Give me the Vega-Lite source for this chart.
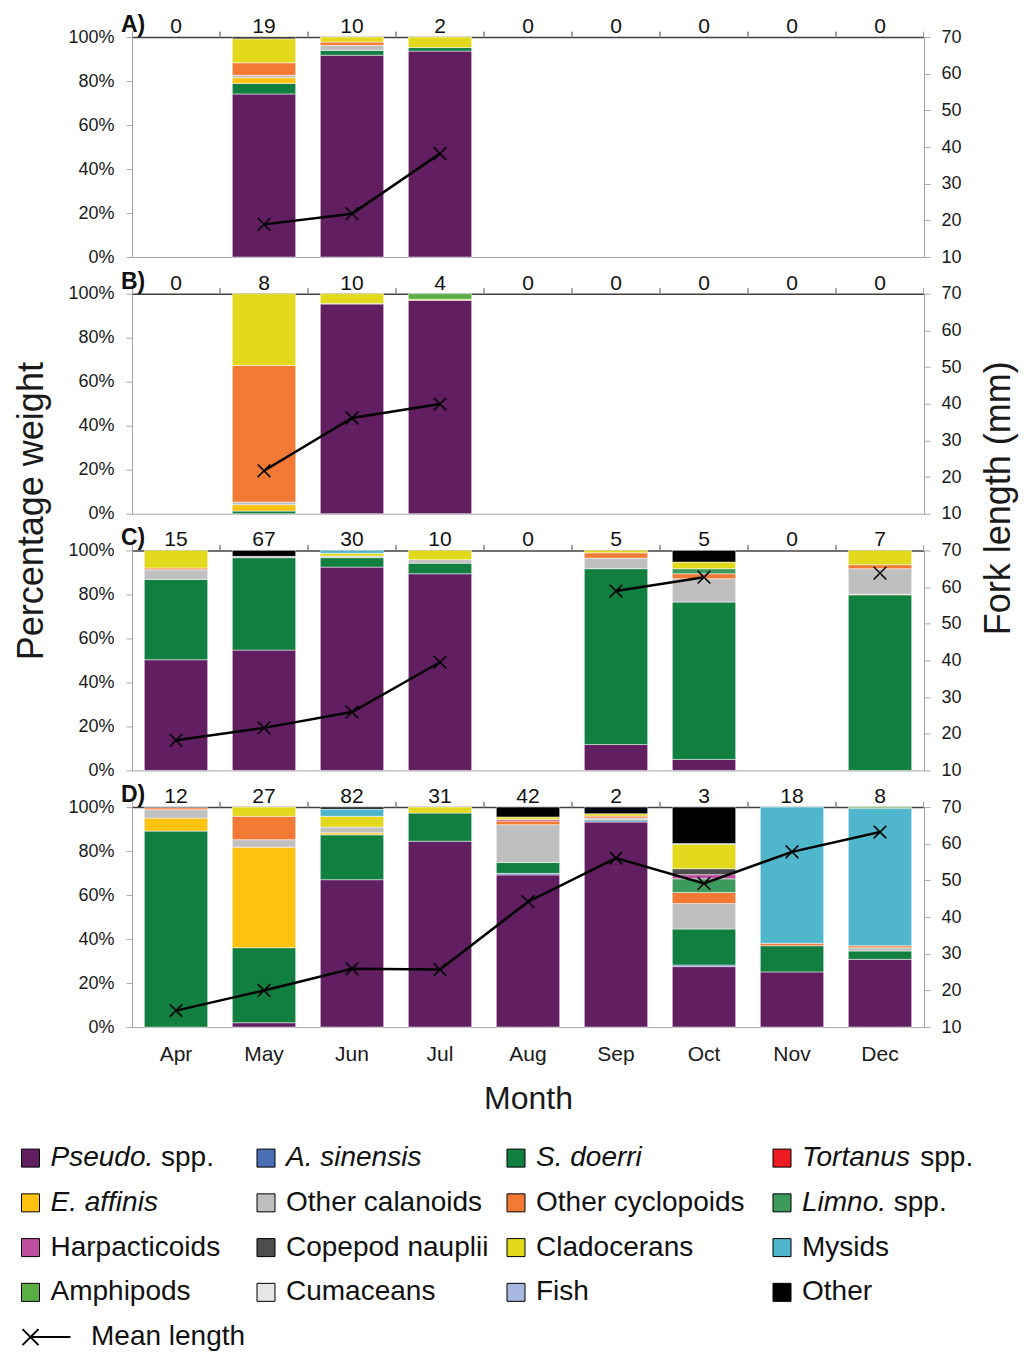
{
  "$schema": "https://vega.github.io/schema/vega-lite/v6.json",
  "background": "white",
  "padding": {"left": 12, "top": 14, "right": 4, "bottom": 2},
  "spacing": 36.7,
  "bounds": "flush",
  "config": {
    "font": "Liberation Sans",
    "view": {"stroke": null},
    "text": {"font": "Liberation Sans"},
    "axis": {"labelFont": "Liberation Sans", "titleFont": "Liberation Sans", "labelFontSize": 18, "labelColor": "#1a1a1a", "domainColor": "#a6a6a6", "tickColor": "#a6a6a6", "tickSize": 6, "grid": false, "titleColor": "#1a1a1a", "titleFontWeight": "normal"}
  },
  "datasets": {
    "comp": [
      {"p":"A","m":"May","s":"Pseudo. spp.","v":74.1},{"p":"A","m":"May","s":"S. doerri","v":4.8},{"p":"A","m":"May","s":"E. affinis","v":2.6},{"p":"A","m":"May","s":"Other calanoids","v":1.1},{"p":"A","m":"May","s":"Other cyclopoids","v":5.7},{"p":"A","m":"May","s":"Cladocerans","v":10.9},{"p":"A","m":"May","s":"Other","v":0.8},
      {"p":"A","m":"Jun","s":"Pseudo. spp.","v":91.7},{"p":"A","m":"Jun","s":"S. doerri","v":2.2},{"p":"A","m":"Jun","s":"Other calanoids","v":2.3},{"p":"A","m":"Jun","s":"Other cyclopoids","v":1.5},{"p":"A","m":"Jun","s":"Cladocerans","v":2.3},
      {"p":"A","m":"Jul","s":"Pseudo. spp.","v":93.6},{"p":"A","m":"Jul","s":"S. doerri","v":1.6},{"p":"A","m":"Jul","s":"Cladocerans","v":4.8},
      {"p":"B","m":"May","s":"S. doerri","v":1.2},{"p":"B","m":"May","s":"E. affinis","v":2.9},{"p":"B","m":"May","s":"Other calanoids","v":1.2},{"p":"B","m":"May","s":"Other cyclopoids","v":62.1},{"p":"B","m":"May","s":"Cladocerans","v":32.6},
      {"p":"B","m":"Jun","s":"Pseudo. spp.","v":95.3},{"p":"B","m":"Jun","s":"A. sinensis","v":0.3},{"p":"B","m":"Jun","s":"Cladocerans","v":4.4},
      {"p":"B","m":"Jul","s":"Pseudo. spp.","v":97.0},{"p":"B","m":"Jul","s":"Cladocerans","v":0.5},{"p":"B","m":"Jul","s":"Amphipods","v":2.5},
      {"p":"C","m":"Apr","s":"Pseudo. spp.","v":50.3},{"p":"C","m":"Apr","s":"S. doerri","v":36.5},{"p":"C","m":"Apr","s":"Other calanoids","v":4.4},{"p":"C","m":"Apr","s":"Other cyclopoids","v":0.8},{"p":"C","m":"Apr","s":"Cladocerans","v":8.0},
      {"p":"C","m":"May","s":"Pseudo. spp.","v":54.7},{"p":"C","m":"May","s":"S. doerri","v":42.0},{"p":"C","m":"May","s":"Other calanoids","v":0.6},{"p":"C","m":"May","s":"Other","v":2.7},
      {"p":"C","m":"Jun","s":"Pseudo. spp.","v":92.4},{"p":"C","m":"Jun","s":"S. doerri","v":4.3},{"p":"C","m":"Jun","s":"Other calanoids","v":0.7},{"p":"C","m":"Jun","s":"Cladocerans","v":1.3},{"p":"C","m":"Jun","s":"Mysids","v":1.3},
      {"p":"C","m":"Jul","s":"Pseudo. spp.","v":89.4},{"p":"C","m":"Jul","s":"S. doerri","v":4.8},{"p":"C","m":"Jul","s":"Other calanoids","v":1.6},{"p":"C","m":"Jul","s":"Cladocerans","v":4.2},
      {"p":"C","m":"Sep","s":"Pseudo. spp.","v":11.8},{"p":"C","m":"Sep","s":"S. doerri","v":79.9},{"p":"C","m":"Sep","s":"Other calanoids","v":4.8},{"p":"C","m":"Sep","s":"Other cyclopoids","v":2.4},{"p":"C","m":"Sep","s":"Cladocerans","v":1.1},
      {"p":"C","m":"Oct","s":"Pseudo. spp.","v":5.0},{"p":"C","m":"Oct","s":"S. doerri","v":71.5},{"p":"C","m":"Oct","s":"Other calanoids","v":10.6},{"p":"C","m":"Oct","s":"Other cyclopoids","v":2.3},{"p":"C","m":"Oct","s":"Limno. spp.","v":2.3},{"p":"C","m":"Oct","s":"Cladocerans","v":3.0},{"p":"C","m":"Oct","s":"Other","v":5.3},
      {"p":"C","m":"Dec","s":"S. doerri","v":79.8},{"p":"C","m":"Dec","s":"E. affinis","v":0.3},{"p":"C","m":"Dec","s":"Other calanoids","v":11.6},{"p":"C","m":"Dec","s":"Other cyclopoids","v":1.8},{"p":"C","m":"Dec","s":"Cladocerans","v":6.5},
      {"p":"D","m":"Apr","s":"S. doerri","v":89.1},{"p":"D","m":"Apr","s":"E. affinis","v":5.9},{"p":"D","m":"Apr","s":"Other calanoids","v":3.8},{"p":"D","m":"Apr","s":"Other cyclopoids","v":0.9},{"p":"D","m":"Apr","s":"Other","v":0.3},
      {"p":"D","m":"May","s":"Pseudo. spp.","v":2.0},{"p":"D","m":"May","s":"S. doerri","v":34.1},{"p":"D","m":"May","s":"E. affinis","v":45.7},{"p":"D","m":"May","s":"Other calanoids","v":3.4},{"p":"D","m":"May","s":"Other cyclopoids","v":10.6},{"p":"D","m":"May","s":"Cladocerans","v":4.2},
      {"p":"D","m":"Jun","s":"Pseudo. spp.","v":67.0},{"p":"D","m":"Jun","s":"S. doerri","v":20.4},{"p":"D","m":"Jun","s":"E. affinis","v":0.9},{"p":"D","m":"Jun","s":"Other calanoids","v":2.6},{"p":"D","m":"Jun","s":"Cladocerans","v":4.9},{"p":"D","m":"Jun","s":"Mysids","v":3.3},{"p":"D","m":"Jun","s":"Other","v":0.9},
      {"p":"D","m":"Jul","s":"Pseudo. spp.","v":84.5},{"p":"D","m":"Jul","s":"S. doerri","v":12.8},{"p":"D","m":"Jul","s":"Cladocerans","v":2.7},
      {"p":"D","m":"Aug","s":"Pseudo. spp.","v":69.2},{"p":"D","m":"Aug","s":"A. sinensis","v":0.7},{"p":"D","m":"Aug","s":"S. doerri","v":4.9},{"p":"D","m":"Aug","s":"Other calanoids","v":17.2},{"p":"D","m":"Aug","s":"Other cyclopoids","v":1.7},{"p":"D","m":"Aug","s":"Harpacticoids","v":0.7},{"p":"D","m":"Aug","s":"Cladocerans","v":1.1},{"p":"D","m":"Aug","s":"Other","v":4.5},
      {"p":"D","m":"Sep","s":"Pseudo. spp.","v":93.2},{"p":"D","m":"Sep","s":"A. sinensis","v":0.6},{"p":"D","m":"Sep","s":"S. doerri","v":0.5},{"p":"D","m":"Sep","s":"Other calanoids","v":0.8},{"p":"D","m":"Sep","s":"Other cyclopoids","v":0.8},{"p":"D","m":"Sep","s":"Cladocerans","v":1.1},{"p":"D","m":"Sep","s":"Other","v":3.0},
      {"p":"D","m":"Oct","s":"Pseudo. spp.","v":27.5},{"p":"D","m":"Oct","s":"A. sinensis","v":0.7},{"p":"D","m":"Oct","s":"S. doerri","v":16.4},{"p":"D","m":"Oct","s":"Other calanoids","v":11.6},{"p":"D","m":"Oct","s":"Other cyclopoids","v":5.0},{"p":"D","m":"Oct","s":"Limno. spp.","v":6.2},{"p":"D","m":"Oct","s":"Harpacticoids","v":1.9},{"p":"D","m":"Oct","s":"Copepod nauplii","v":2.7},{"p":"D","m":"Oct","s":"Cladocerans","v":11.1},{"p":"D","m":"Oct","s":"Amphipods","v":0.3},{"p":"D","m":"Oct","s":"Other","v":16.6},
      {"p":"D","m":"Nov","s":"Pseudo. spp.","v":25.1},{"p":"D","m":"Nov","s":"S. doerri","v":11.9},{"p":"D","m":"Nov","s":"Other cyclopoids","v":1.1},{"p":"D","m":"Nov","s":"Mysids","v":61.9},
      {"p":"D","m":"Dec","s":"Pseudo. spp.","v":30.8},{"p":"D","m":"Dec","s":"S. doerri","v":3.8},{"p":"D","m":"Dec","s":"Other calanoids","v":1.5},{"p":"D","m":"Dec","s":"Other cyclopoids","v":0.9},{"p":"D","m":"Dec","s":"Mysids","v":62.5},{"p":"D","m":"Dec","s":"Amphipods","v":0.5}
    ],
    "lens": [
      {"p":"A","m":"May","len":18.9},{"p":"A","m":"Jun","len":21.8},{"p":"A","m":"Jul","len":38.2},
      {"p":"B","m":"May","len":21.7},{"p":"B","m":"Jun","len":36.1},{"p":"B","m":"Jul","len":39.9},
      {"p":"C","m":"Apr","len":18.2},{"p":"C","m":"May","len":21.6},{"p":"C","m":"Jun","len":25.9},{"p":"C","m":"Jul","len":39.5},{"p":"C","m":"Aug","len":null},{"p":"C","m":"Sep","len":58.9},{"p":"C","m":"Oct","len":62.7},{"p":"C","m":"Nov","len":null},{"p":"C","m":"Dec","len":63.8},
      {"p":"D","m":"Apr","len":14.5},{"p":"D","m":"May","len":20.0},{"p":"D","m":"Jun","len":25.9},{"p":"D","m":"Jul","len":25.7},{"p":"D","m":"Aug","len":44.2},{"p":"D","m":"Sep","len":56.1},{"p":"D","m":"Oct","len":49.2},{"p":"D","m":"Nov","len":57.8},{"p":"D","m":"Dec","len":63.2}
    ],
    "counts": [
      {"p":"A","m":"Apr","n":0},{"p":"A","m":"May","n":19},{"p":"A","m":"Jun","n":10},{"p":"A","m":"Jul","n":2},{"p":"A","m":"Aug","n":0},{"p":"A","m":"Sep","n":0},{"p":"A","m":"Oct","n":0},{"p":"A","m":"Nov","n":0},{"p":"A","m":"Dec","n":0},
      {"p":"B","m":"Apr","n":0},{"p":"B","m":"May","n":8},{"p":"B","m":"Jun","n":10},{"p":"B","m":"Jul","n":4},{"p":"B","m":"Aug","n":0},{"p":"B","m":"Sep","n":0},{"p":"B","m":"Oct","n":0},{"p":"B","m":"Nov","n":0},{"p":"B","m":"Dec","n":0},
      {"p":"C","m":"Apr","n":15},{"p":"C","m":"May","n":67},{"p":"C","m":"Jun","n":30},{"p":"C","m":"Jul","n":10},{"p":"C","m":"Aug","n":0},{"p":"C","m":"Sep","n":5},{"p":"C","m":"Oct","n":5},{"p":"C","m":"Nov","n":0},{"p":"C","m":"Dec","n":7},
      {"p":"D","m":"Apr","n":12},{"p":"D","m":"May","n":27},{"p":"D","m":"Jun","n":82},{"p":"D","m":"Jul","n":31},{"p":"D","m":"Aug","n":42},{"p":"D","m":"Sep","n":2},{"p":"D","m":"Oct","n":3},{"p":"D","m":"Nov","n":18},{"p":"D","m":"Dec","n":8}
    ],
    "legend": [
      {"name":"Pseudo. spp.","it":"Pseudo.","rest":"spp."},
      {"name":"A. sinensis","it":"A. sinensis","rest":""},
      {"name":"S. doerri","it":"S. doerri","rest":""},
      {"name":"Tortanus spp.","it":"Tortanus","rest":"spp."},
      {"name":"E. affinis","it":"E. affinis","rest":""},
      {"name":"Other calanoids","it":"","rest":"Other calanoids"},
      {"name":"Other cyclopoids","it":"","rest":"Other cyclopoids"},
      {"name":"Limno. spp.","it":"Limno.","rest":"spp."},
      {"name":"Harpacticoids","it":"","rest":"Harpacticoids"},
      {"name":"Copepod nauplii","it":"","rest":"Copepod nauplii"},
      {"name":"Cladocerans","it":"","rest":"Cladocerans"},
      {"name":"Mysids","it":"","rest":"Mysids"},
      {"name":"Amphipods","it":"","rest":"Amphipods"},
      {"name":"Cumaceans","it":"","rest":"Cumaceans"},
      {"name":"Fish","it":"","rest":"Fish"},
      {"name":"Other","it":"","rest":"Other"}
    ]
  },
  "vconcat": [
    {
      "width": 792, "height": 220,
      "layer": [
        {"data": {"name": "comp"},
         "transform": [{"filter": "datum.p == 'A'"}, {"calculate": "indexof(['Pseudo. spp.','A. sinensis','S. doerri','Tortanus spp.','E. affinis','Other calanoids','Other cyclopoids','Limno. spp.','Harpacticoids','Copepod nauplii','Cladocerans','Mysids','Amphipods','Cumaceans','Fish','Other'], datum.s)", "as": "k"}],
         "mark": {"type": "bar", "stroke": "white", "strokeWidth": 0.5},
         "encoding": {
           "x": {"field": "m", "type": "ordinal", "scale": {"domain": ["Apr","May","Jun","Jul","Aug","Sep","Oct","Nov","Dec"], "paddingInner": 0.28, "paddingOuter": 0.14}, "axis": {"labels": false, "ticks": false, "domain": true, "title": null}},
           "y": {"field": "v", "type": "quantitative", "stack": "normalize", "scale": {"domain": [0, 1]}, "axis": {"values": [0,0.2,0.4,0.6,0.8,1], "format": ".0%", "title": null, "labelPadding": 12}},
           "color": {"field": "s", "type": "nominal", "scale": {"domain": ["Pseudo. spp.","A. sinensis","S. doerri","Tortanus spp.","E. affinis","Other calanoids","Other cyclopoids","Limno. spp.","Harpacticoids","Copepod nauplii","Cladocerans","Mysids","Amphipods","Cumaceans","Fish","Other"], "range": ["#611f61","#4a6fb5","#117f40","#ed1c24","#ffc20e","#bfbfbf","#f37a35","#3c9a5c","#c04ea0","#4d4d4d","#e3d91c","#4fb6cc","#5aae44","#e6e6e6","#a8b8e0","#000000"]}, "legend": null},
           "order": {"field": "k", "type": "quantitative"}
         }},
        {"data": {"name": "lens"},
         "transform": [{"filter": "datum.p == 'A'"}],
         "mark": {"type": "line", "color": "black", "strokeWidth": 2.5},
         "encoding": {
           "x": {"field": "m", "type": "ordinal", "scale": {"domain": ["Apr","May","Jun","Jul","Aug","Sep","Oct","Nov","Dec"], "paddingInner": 0.28, "paddingOuter": 0.14}, "axis": {"labels": false, "ticks": true, "domain": false, "bandPosition": -0.1944, "title": null}},
           "y": {"field": "len", "type": "quantitative", "scale": {"domain": [10, 70]}, "axis": {"orient": "right", "values": [10,20,30,40,50,60,70], "title": null, "labelPadding": 11}}
         }},
        {"data": {"name": "lens"},
         "transform": [{"filter": "datum.p == 'A' && datum.len != null"}],
         "mark": {"type": "point", "shape": "M-1,-1L1,1M-1,1L1,-1", "size": 160, "stroke": "black", "strokeWidth": 1.6, "filled": false, "opacity": 1},
         "encoding": {
           "x": {"field": "m", "type": "ordinal", "scale": {"domain": ["Apr","May","Jun","Jul","Aug","Sep","Oct","Nov","Dec"], "paddingInner": 0.28, "paddingOuter": 0.14}, "axis": {"orient": "top", "labels": false, "ticks": false, "domain": true, "domainColor": "#404040", "domainWidth": 1.5, "title": null}},
           "y": {"field": "len", "type": "quantitative", "scale": {"domain": [10, 70]}, "axis": null}
         }},
        {"data": {"name": "counts"},
         "transform": [{"filter": "datum.p == 'A'"}],
         "mark": {"type": "text", "fontSize": 21, "baseline": "alphabetic", "dy": -4, "color": "#111111"},
         "encoding": {
           "x": {"field": "m", "type": "ordinal", "scale": {"domain": ["Apr","May","Jun","Jul","Aug","Sep","Oct","Nov","Dec"], "paddingInner": 0.28, "paddingOuter": 0.14}, "axis": {"labels": false, "ticks": true, "domain": false, "bandPosition": 1.1944, "title": null}},
           "y": {"datum": 70, "type": "quantitative", "scale": {"domain": [10, 70]}, "axis": null},
           "text": {"field": "n", "type": "quantitative"}
         }},
        {"data": {"values": [{"lab": "A)"}]},
         "mark": {"type": "text", "fontSize": 23, "fontWeight": "bold", "align": "left", "baseline": "alphabetic", "dx": -55, "dy": -5, "color": "#111111"},
         "encoding": {
           "x": {"datum": "Apr", "type": "ordinal", "scale": {"domain": ["Apr","May","Jun","Jul","Aug","Sep","Oct","Nov","Dec"], "paddingInner": 0.28, "paddingOuter": 0.14}, "axis": null},
           "y": {"datum": 70, "type": "quantitative", "scale": {"domain": [10, 70]}, "axis": null},
           "text": {"field": "lab", "type": "nominal"}
         }}
      ],
      "resolve": {"scale": {"y": "independent"}, "axis": {"x": "independent"}}
    },
    {
      "width": 792, "height": 220,
      "layer": [
        {"data": {"name": "comp"},
         "transform": [{"filter": "datum.p == 'B'"}, {"calculate": "indexof(['Pseudo. spp.','A. sinensis','S. doerri','Tortanus spp.','E. affinis','Other calanoids','Other cyclopoids','Limno. spp.','Harpacticoids','Copepod nauplii','Cladocerans','Mysids','Amphipods','Cumaceans','Fish','Other'], datum.s)", "as": "k"}],
         "mark": {"type": "bar", "stroke": "white", "strokeWidth": 0.5},
         "encoding": {
           "x": {"field": "m", "type": "ordinal", "scale": {"domain": ["Apr","May","Jun","Jul","Aug","Sep","Oct","Nov","Dec"], "paddingInner": 0.28, "paddingOuter": 0.14}, "axis": {"labels": false, "ticks": false, "domain": true, "title": null}},
           "y": {"field": "v", "type": "quantitative", "stack": "normalize", "scale": {"domain": [0, 1]}, "axis": {"values": [0,0.2,0.4,0.6,0.8,1], "format": ".0%", "labelPadding": 12, "title": "Percentage weight", "titleFontSize": 36, "titleAngle": -90, "titleX": -90, "titleY": 217, "titleAlign": "center", "titleBaseline": "alphabetic"}},
           "color": {"field": "s", "type": "nominal", "scale": {"domain": ["Pseudo. spp.","A. sinensis","S. doerri","Tortanus spp.","E. affinis","Other calanoids","Other cyclopoids","Limno. spp.","Harpacticoids","Copepod nauplii","Cladocerans","Mysids","Amphipods","Cumaceans","Fish","Other"], "range": ["#611f61","#4a6fb5","#117f40","#ed1c24","#ffc20e","#bfbfbf","#f37a35","#3c9a5c","#c04ea0","#4d4d4d","#e3d91c","#4fb6cc","#5aae44","#e6e6e6","#a8b8e0","#000000"]}, "legend": null},
           "order": {"field": "k", "type": "quantitative"}
         }},
        {"data": {"name": "lens"},
         "transform": [{"filter": "datum.p == 'B'"}],
         "mark": {"type": "line", "color": "black", "strokeWidth": 2.5},
         "encoding": {
           "x": {"field": "m", "type": "ordinal", "scale": {"domain": ["Apr","May","Jun","Jul","Aug","Sep","Oct","Nov","Dec"], "paddingInner": 0.28, "paddingOuter": 0.14}, "axis": {"labels": false, "ticks": true, "domain": false, "bandPosition": -0.1944, "title": null}},
           "y": {"field": "len", "type": "quantitative", "scale": {"domain": [10, 70]}, "axis": {"orient": "right", "values": [10,20,30,40,50,60,70], "labelPadding": 11, "title": "Fork length (mm)", "titleFontSize": 36, "titleAngle": -90, "titleX": 85, "titleY": 204, "titleAlign": "center", "titleBaseline": "alphabetic"}}
         }},
        {"data": {"name": "lens"},
         "transform": [{"filter": "datum.p == 'B' && datum.len != null"}],
         "mark": {"type": "point", "shape": "M-1,-1L1,1M-1,1L1,-1", "size": 160, "stroke": "black", "strokeWidth": 1.6, "filled": false, "opacity": 1},
         "encoding": {
           "x": {"field": "m", "type": "ordinal", "scale": {"domain": ["Apr","May","Jun","Jul","Aug","Sep","Oct","Nov","Dec"], "paddingInner": 0.28, "paddingOuter": 0.14}, "axis": {"orient": "top", "labels": false, "ticks": false, "domain": true, "domainColor": "#404040", "domainWidth": 1.5, "title": null}},
           "y": {"field": "len", "type": "quantitative", "scale": {"domain": [10, 70]}, "axis": null}
         }},
        {"data": {"name": "counts"},
         "transform": [{"filter": "datum.p == 'B'"}],
         "mark": {"type": "text", "fontSize": 21, "baseline": "alphabetic", "dy": -4, "color": "#111111"},
         "encoding": {
           "x": {"field": "m", "type": "ordinal", "scale": {"domain": ["Apr","May","Jun","Jul","Aug","Sep","Oct","Nov","Dec"], "paddingInner": 0.28, "paddingOuter": 0.14}, "axis": {"labels": false, "ticks": true, "domain": false, "bandPosition": 1.1944, "title": null}},
           "y": {"datum": 70, "type": "quantitative", "scale": {"domain": [10, 70]}, "axis": null},
           "text": {"field": "n", "type": "quantitative"}
         }},
        {"data": {"values": [{"lab": "B)"}]},
         "mark": {"type": "text", "fontSize": 23, "fontWeight": "bold", "align": "left", "baseline": "alphabetic", "dx": -55, "dy": -5, "color": "#111111"},
         "encoding": {
           "x": {"datum": "Apr", "type": "ordinal", "scale": {"domain": ["Apr","May","Jun","Jul","Aug","Sep","Oct","Nov","Dec"], "paddingInner": 0.28, "paddingOuter": 0.14}, "axis": null},
           "y": {"datum": 70, "type": "quantitative", "scale": {"domain": [10, 70]}, "axis": null},
           "text": {"field": "lab", "type": "nominal"}
         }}
      ],
      "resolve": {"scale": {"y": "independent"}, "axis": {"x": "independent"}}
    },
    {
      "width": 792, "height": 220,
      "layer": [
        {"data": {"name": "comp"},
         "transform": [{"filter": "datum.p == 'C'"}, {"calculate": "indexof(['Pseudo. spp.','A. sinensis','S. doerri','Tortanus spp.','E. affinis','Other calanoids','Other cyclopoids','Limno. spp.','Harpacticoids','Copepod nauplii','Cladocerans','Mysids','Amphipods','Cumaceans','Fish','Other'], datum.s)", "as": "k"}],
         "mark": {"type": "bar", "stroke": "white", "strokeWidth": 0.5},
         "encoding": {
           "x": {"field": "m", "type": "ordinal", "scale": {"domain": ["Apr","May","Jun","Jul","Aug","Sep","Oct","Nov","Dec"], "paddingInner": 0.28, "paddingOuter": 0.14}, "axis": {"labels": false, "ticks": false, "domain": true, "title": null}},
           "y": {"field": "v", "type": "quantitative", "stack": "normalize", "scale": {"domain": [0, 1]}, "axis": {"values": [0,0.2,0.4,0.6,0.8,1], "format": ".0%", "title": null, "labelPadding": 12}},
           "color": {"field": "s", "type": "nominal", "scale": {"domain": ["Pseudo. spp.","A. sinensis","S. doerri","Tortanus spp.","E. affinis","Other calanoids","Other cyclopoids","Limno. spp.","Harpacticoids","Copepod nauplii","Cladocerans","Mysids","Amphipods","Cumaceans","Fish","Other"], "range": ["#611f61","#4a6fb5","#117f40","#ed1c24","#ffc20e","#bfbfbf","#f37a35","#3c9a5c","#c04ea0","#4d4d4d","#e3d91c","#4fb6cc","#5aae44","#e6e6e6","#a8b8e0","#000000"]}, "legend": null},
           "order": {"field": "k", "type": "quantitative"}
         }},
        {"data": {"name": "lens"},
         "transform": [{"filter": "datum.p == 'C'"}],
         "mark": {"type": "line", "color": "black", "strokeWidth": 2.5, "invalid": "break-paths-show-domains"},
         "encoding": {
           "x": {"field": "m", "type": "ordinal", "scale": {"domain": ["Apr","May","Jun","Jul","Aug","Sep","Oct","Nov","Dec"], "paddingInner": 0.28, "paddingOuter": 0.14}, "axis": {"labels": false, "ticks": true, "domain": false, "bandPosition": -0.1944, "title": null}},
           "y": {"field": "len", "type": "quantitative", "scale": {"domain": [10, 70]}, "axis": {"orient": "right", "values": [10,20,30,40,50,60,70], "title": null, "labelPadding": 11}}
         }},
        {"data": {"name": "lens"},
         "transform": [{"filter": "datum.p == 'C' && datum.len != null"}],
         "mark": {"type": "point", "shape": "M-1,-1L1,1M-1,1L1,-1", "size": 160, "stroke": "black", "strokeWidth": 1.6, "filled": false, "opacity": 1},
         "encoding": {
           "x": {"field": "m", "type": "ordinal", "scale": {"domain": ["Apr","May","Jun","Jul","Aug","Sep","Oct","Nov","Dec"], "paddingInner": 0.28, "paddingOuter": 0.14}, "axis": {"orient": "top", "labels": false, "ticks": false, "domain": true, "domainColor": "#404040", "domainWidth": 1.5, "title": null}},
           "y": {"field": "len", "type": "quantitative", "scale": {"domain": [10, 70]}, "axis": null}
         }},
        {"data": {"name": "counts"},
         "transform": [{"filter": "datum.p == 'C'"}],
         "mark": {"type": "text", "fontSize": 21, "baseline": "alphabetic", "dy": -4, "color": "#111111"},
         "encoding": {
           "x": {"field": "m", "type": "ordinal", "scale": {"domain": ["Apr","May","Jun","Jul","Aug","Sep","Oct","Nov","Dec"], "paddingInner": 0.28, "paddingOuter": 0.14}, "axis": {"labels": false, "ticks": true, "domain": false, "bandPosition": 1.1944, "title": null}},
           "y": {"datum": 70, "type": "quantitative", "scale": {"domain": [10, 70]}, "axis": null},
           "text": {"field": "n", "type": "quantitative"}
         }},
        {"data": {"values": [{"lab": "C)"}]},
         "mark": {"type": "text", "fontSize": 23, "fontWeight": "bold", "align": "left", "baseline": "alphabetic", "dx": -55, "dy": -5, "color": "#111111"},
         "encoding": {
           "x": {"datum": "Apr", "type": "ordinal", "scale": {"domain": ["Apr","May","Jun","Jul","Aug","Sep","Oct","Nov","Dec"], "paddingInner": 0.28, "paddingOuter": 0.14}, "axis": null},
           "y": {"datum": 70, "type": "quantitative", "scale": {"domain": [10, 70]}, "axis": null},
           "text": {"field": "lab", "type": "nominal"}
         }}
      ],
      "resolve": {"scale": {"y": "independent"}, "axis": {"x": "independent"}}
    },
    {
      "width": 792, "height": 220,
      "layer": [
        {"data": {"name": "comp"},
         "transform": [{"filter": "datum.p == 'D'"}, {"calculate": "indexof(['Pseudo. spp.','A. sinensis','S. doerri','Tortanus spp.','E. affinis','Other calanoids','Other cyclopoids','Limno. spp.','Harpacticoids','Copepod nauplii','Cladocerans','Mysids','Amphipods','Cumaceans','Fish','Other'], datum.s)", "as": "k"}],
         "mark": {"type": "bar", "stroke": "white", "strokeWidth": 0.5},
         "encoding": {
           "x": {"field": "m", "type": "ordinal", "scale": {"domain": ["Apr","May","Jun","Jul","Aug","Sep","Oct","Nov","Dec"], "paddingInner": 0.28, "paddingOuter": 0.14}, "axis": {"labels": true, "ticks": false, "domain": true, "labelAngle": 0, "labelFontSize": 21, "labelPadding": 16, "title": "Month", "titleFontSize": 32, "titlePadding": 19}},
           "y": {"field": "v", "type": "quantitative", "stack": "normalize", "scale": {"domain": [0, 1]}, "axis": {"values": [0,0.2,0.4,0.6,0.8,1], "format": ".0%", "title": null, "labelPadding": 12}},
           "color": {"field": "s", "type": "nominal", "scale": {"domain": ["Pseudo. spp.","A. sinensis","S. doerri","Tortanus spp.","E. affinis","Other calanoids","Other cyclopoids","Limno. spp.","Harpacticoids","Copepod nauplii","Cladocerans","Mysids","Amphipods","Cumaceans","Fish","Other"], "range": ["#611f61","#4a6fb5","#117f40","#ed1c24","#ffc20e","#bfbfbf","#f37a35","#3c9a5c","#c04ea0","#4d4d4d","#e3d91c","#4fb6cc","#5aae44","#e6e6e6","#a8b8e0","#000000"]}, "legend": null},
           "order": {"field": "k", "type": "quantitative"}
         }},
        {"data": {"name": "lens"},
         "transform": [{"filter": "datum.p == 'D'"}],
         "mark": {"type": "line", "color": "black", "strokeWidth": 2.5},
         "encoding": {
           "x": {"field": "m", "type": "ordinal", "scale": {"domain": ["Apr","May","Jun","Jul","Aug","Sep","Oct","Nov","Dec"], "paddingInner": 0.28, "paddingOuter": 0.14}, "axis": {"labels": false, "ticks": true, "domain": false, "bandPosition": -0.1944, "title": null}},
           "y": {"field": "len", "type": "quantitative", "scale": {"domain": [10, 70]}, "axis": {"orient": "right", "values": [10,20,30,40,50,60,70], "title": null, "labelPadding": 11}}
         }},
        {"data": {"name": "lens"},
         "transform": [{"filter": "datum.p == 'D' && datum.len != null"}],
         "mark": {"type": "point", "shape": "M-1,-1L1,1M-1,1L1,-1", "size": 160, "stroke": "black", "strokeWidth": 1.6, "filled": false, "opacity": 1},
         "encoding": {
           "x": {"field": "m", "type": "ordinal", "scale": {"domain": ["Apr","May","Jun","Jul","Aug","Sep","Oct","Nov","Dec"], "paddingInner": 0.28, "paddingOuter": 0.14}, "axis": {"orient": "top", "labels": false, "ticks": false, "domain": true, "domainColor": "#404040", "domainWidth": 1.5, "title": null}},
           "y": {"field": "len", "type": "quantitative", "scale": {"domain": [10, 70]}, "axis": null}
         }},
        {"data": {"name": "counts"},
         "transform": [{"filter": "datum.p == 'D'"}],
         "mark": {"type": "text", "fontSize": 21, "baseline": "alphabetic", "dy": -4, "color": "#111111"},
         "encoding": {
           "x": {"field": "m", "type": "ordinal", "scale": {"domain": ["Apr","May","Jun","Jul","Aug","Sep","Oct","Nov","Dec"], "paddingInner": 0.28, "paddingOuter": 0.14}, "axis": {"labels": false, "ticks": true, "domain": false, "bandPosition": 1.1944, "title": null}},
           "y": {"datum": 70, "type": "quantitative", "scale": {"domain": [10, 70]}, "axis": null},
           "text": {"field": "n", "type": "quantitative"}
         }},
        {"data": {"values": [{"lab": "D)"}]},
         "mark": {"type": "text", "fontSize": 23, "fontWeight": "bold", "align": "left", "baseline": "alphabetic", "dx": -55, "dy": -5, "color": "#111111"},
         "encoding": {
           "x": {"datum": "Apr", "type": "ordinal", "scale": {"domain": ["Apr","May","Jun","Jul","Aug","Sep","Oct","Nov","Dec"], "paddingInner": 0.28, "paddingOuter": 0.14}, "axis": null},
           "y": {"datum": 70, "type": "quantitative", "scale": {"domain": [10, 70]}, "axis": null},
           "text": {"field": "lab", "type": "nominal"}
         }}
      ],
      "resolve": {"scale": {"y": "independent"}, "axis": {"x": "independent"}}
    },
    {
      "width": 792, "height": 280,
      "layer": [
        {"data": {"name": "legend"},
         "transform": [{"window": [{"op": "row_number", "as": "rn"}]}, {"calculate": "(datum.rn - 1) % 4", "as": "col"}, {"calculate": "floor((datum.rn - 1) / 4)", "as": "row"}],
         "mark": {"type": "point", "shape": "square", "size": 324, "filled": true, "stroke": "black", "strokeWidth": 1, "opacity": 1},
         "encoding": {
           "x": {"field": "col", "type": "quantitative", "scale": {"domain": [0,1,2,3], "range": [-101.5,134,384,650]}, "axis": null},
           "y": {"field": "row", "type": "quantitative", "scale": {"domain": [0,4], "range": [94.3,273.3]}, "axis": null},
           "color": {"field": "name", "type": "nominal", "scale": {"domain": ["Pseudo. spp.","A. sinensis","S. doerri","Tortanus spp.","E. affinis","Other calanoids","Other cyclopoids","Limno. spp.","Harpacticoids","Copepod nauplii","Cladocerans","Mysids","Amphipods","Cumaceans","Fish","Other"], "range": ["#611f61","#4a6fb5","#117f40","#ed1c24","#ffc20e","#bfbfbf","#f37a35","#3c9a5c","#c04ea0","#4d4d4d","#e3d91c","#4fb6cc","#5aae44","#e6e6e6","#a8b8e0","#000000"]}, "legend": null}
         }},
        {"data": {"name": "legend"},
         "transform": [{"window": [{"op": "row_number", "as": "rn"}]}, {"calculate": "(datum.rn - 1) % 4", "as": "col"}, {"calculate": "floor((datum.rn - 1) / 4)", "as": "row"}, {"filter": "datum.it != ''"}],
         "mark": {"type": "text", "align": "left", "baseline": "middle", "dx": 20, "fontSize": 28, "fontStyle": "italic", "color": "#111111"},
         "encoding": {
           "x": {"field": "col", "type": "quantitative", "scale": {"domain": [0,1,2,3], "range": [-101.5,134,384,650]}, "axis": null},
           "y": {"field": "row", "type": "quantitative", "scale": {"domain": [0,4], "range": [94.3,273.3]}, "axis": null},
           "text": {"field": "it", "type": "nominal"}
         }},
        {"data": {"name": "legend"},
         "transform": [{"window": [{"op": "row_number", "as": "rn"}]}, {"calculate": "(datum.rn - 1) % 4", "as": "col"}, {"calculate": "floor((datum.rn - 1) / 4)", "as": "row"}, {"filter": "datum.it == ''"}],
         "mark": {"type": "text", "align": "left", "baseline": "middle", "dx": 20, "fontSize": 28, "color": "#111111"},
         "encoding": {
           "x": {"field": "col", "type": "quantitative", "scale": {"domain": [0,1,2,3], "range": [-101.5,134,384,650]}, "axis": null},
           "y": {"field": "row", "type": "quantitative", "scale": {"domain": [0,4], "range": [94.3,273.3]}, "axis": null},
           "text": {"field": "rest", "type": "nominal"}
         }},
        {"data": {"name": "legend"},
         "transform": [{"window": [{"op": "row_number", "as": "rn"}]}, {"calculate": "(datum.rn - 1) % 4", "as": "col"}, {"calculate": "floor((datum.rn - 1) / 4)", "as": "row"}, {"filter": "datum.name == 'Pseudo. spp.'"}],
         "mark": {"type": "text", "align": "left", "baseline": "middle", "dx": 130.5, "fontSize": 28, "color": "#111111"},
         "encoding": {
           "x": {"field": "col", "type": "quantitative", "scale": {"domain": [0,1,2,3], "range": [-101.5,134,384,650]}, "axis": null},
           "y": {"field": "row", "type": "quantitative", "scale": {"domain": [0,4], "range": [94.3,273.3]}, "axis": null},
           "text": {"field": "rest", "type": "nominal"}
         }},
        {"data": {"name": "legend"},
         "transform": [{"window": [{"op": "row_number", "as": "rn"}]}, {"calculate": "(datum.rn - 1) % 4", "as": "col"}, {"calculate": "floor((datum.rn - 1) / 4)", "as": "row"}, {"filter": "datum.name == 'Tortanus spp.'"}],
         "mark": {"type": "text", "align": "left", "baseline": "middle", "dx": 138.3, "fontSize": 28, "color": "#111111"},
         "encoding": {
           "x": {"field": "col", "type": "quantitative", "scale": {"domain": [0,1,2,3], "range": [-101.5,134,384,650]}, "axis": null},
           "y": {"field": "row", "type": "quantitative", "scale": {"domain": [0,4], "range": [94.3,273.3]}, "axis": null},
           "text": {"field": "rest", "type": "nominal"}
         }},
        {"data": {"name": "legend"},
         "transform": [{"window": [{"op": "row_number", "as": "rn"}]}, {"calculate": "(datum.rn - 1) % 4", "as": "col"}, {"calculate": "floor((datum.rn - 1) / 4)", "as": "row"}, {"filter": "datum.name == 'Limno. spp.'"}],
         "mark": {"type": "text", "align": "left", "baseline": "middle", "dx": 111.8, "fontSize": 28, "color": "#111111"},
         "encoding": {
           "x": {"field": "col", "type": "quantitative", "scale": {"domain": [0,1,2,3], "range": [-101.5,134,384,650]}, "axis": null},
           "y": {"field": "row", "type": "quantitative", "scale": {"domain": [0,4], "range": [94.3,273.3]}, "axis": null},
           "text": {"field": "rest", "type": "nominal"}
         }},
        {"data": {"values": [{"label": "Mean length"}]},
         "mark": {"type": "point", "shape": "M-1,-1L1,1M-1,1L1,-1M0,0L5,0", "size": 256, "stroke": "black", "strokeWidth": 2, "filled": false, "opacity": 1},
         "encoding": {
           "x": {"datum": 0, "type": "quantitative", "scale": {"domain": [0,1,2,3], "range": [-101.5,134,384,650]}, "axis": null},
           "y": {"datum": 4, "type": "quantitative", "scale": {"domain": [0,4], "range": [94.3,273.3]}, "axis": null}
         }},
        {"data": {"values": [{"label": "Mean length"}]},
         "mark": {"type": "text", "align": "left", "baseline": "middle", "dx": 60.5, "fontSize": 28, "color": "#111111"},
         "encoding": {
           "x": {"datum": 0, "type": "quantitative", "scale": {"domain": [0,1,2,3], "range": [-101.5,134,384,650]}, "axis": null},
           "y": {"datum": 4, "type": "quantitative", "scale": {"domain": [0,4], "range": [94.3,273.3]}, "axis": null},
           "text": {"field": "label", "type": "nominal"}
         }}
      ]
    }
  ]
}
